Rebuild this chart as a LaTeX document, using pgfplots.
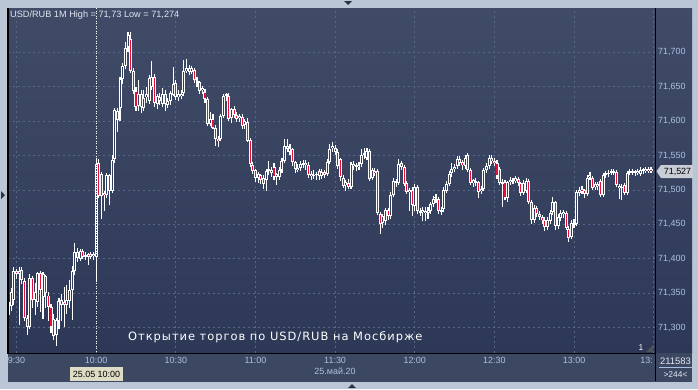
\documentclass[border=0pt]{standalone}
\usepackage{pgfplots}
\pgfplotsset{compat=1.18}
\usepackage{pgfplotstable}
\usepackage{fontspec}
\setmainfont{Liberation Sans}
\newfontfamily\dejavu[LetterSpace=8.5]{DejaVu Sans}
\definecolor{frame}{RGB}{186,197,213}
\definecolor{bgtop}{RGB}{64,76,103}
\definecolor{bgbot}{RGB}{44,56,86}
\definecolor{strip}{RGB}{60,72,98}
\definecolor{gridc}{RGB}{88,103,133}
\definecolor{labelc}{RGB}{170,192,225}
\definecolor{titlec}{RGB}{225,230,240}
\definecolor{candred}{RGB}{228,16,58}
\definecolor{candin}{RGB}{50,62,90}
\definecolor{uidark}{RGB}{40,50,70}
\pgfplotstableread{
m o h l c
-3 71.318 71.340 71.308 71.337
-2 71.332 71.358 71.325 71.352
-1 71.340 71.388 71.332 71.383
0 71.383 71.386 71.372 71.379
1 71.379 71.388 71.304 71.384
2 71.384 71.387 71.362 71.370
3 71.369 71.372 71.310 71.315
4 71.315 71.318 71.289 71.301
5 71.301 71.378 71.298 71.373
6 71.373 71.376 71.330 71.340
7 71.340 71.365 71.318 71.352
8 71.337 71.381 71.330 71.379
9 71.379 71.382 71.322 71.355
10 71.345 71.380 71.312 71.378
11 71.376 71.378 71.330 71.351
12 71.347 71.352 71.310 71.330
13 71.330 71.335 71.292 71.301
14 71.313 71.320 71.283 71.289
15 71.289 71.315 71.274 71.311
16 71.311 71.345 71.300 71.340
17 71.340 71.350 71.310 71.333
18 71.338 71.360 71.302 71.333
19 71.333 71.362 71.320 71.340
20 71.340 71.370 71.330 71.356
21 71.356 71.390 71.312 71.383
22 71.383 71.424 71.378 71.410
23 71.410 71.415 71.395 71.401
24 71.401 71.415 71.398 71.412
25 71.412 71.414 71.400 71.404
26 71.404 71.410 71.398 71.405
27 71.407 71.410 71.392 71.403
28 71.403 71.410 71.400 71.407
29 71.407 71.409 71.398 71.404
30 71.404 71.545 71.366 71.540
31 71.540 71.545 71.488 71.492
32 71.523 71.527 71.459 71.492
33 71.497 71.500 71.470 71.493
34 71.493 71.525 71.488 71.522
35 71.522 71.525 71.480 71.499
36 71.499 71.550 71.495 71.545
37 71.545 71.620 71.540 71.616
38 71.616 71.620 71.585 71.602
39 71.619 71.665 71.600 71.662
40 71.662 71.685 71.655 71.681
41 71.681 71.715 71.676 71.708
42 71.708 71.730 71.700 71.725
43 71.721 71.730 71.670 71.674
44 71.674 71.678 71.640 71.645
45 71.645 71.650 71.615 71.622
46 71.622 71.660 71.615 71.640
47 71.640 71.645 71.612 71.620
48 71.620 71.645 71.615 71.635
49 71.635 71.650 71.628 71.640
50 71.630 71.668 71.625 71.664
51 71.650 71.688 71.645 71.664
52 71.664 71.670 71.622 71.626
53 71.626 71.640 71.618 71.637
54 71.637 71.642 71.625 71.630
55 71.625 71.648 71.620 71.640
56 71.640 71.645 71.615 71.625
57 71.625 71.635 71.620 71.630
58 71.630 71.645 71.625 71.642
59 71.640 71.678 71.636 71.655
60 71.655 71.660 71.630 71.635
61 71.635 71.645 71.630 71.640
62 71.637 71.645 71.632 71.641
63 71.641 71.690 71.638 71.674
64 71.674 71.690 71.670 71.678
65 71.678 71.682 71.668 71.672
66 71.672 71.680 71.668 71.677
67 71.675 71.678 71.656 71.660
68 71.660 71.665 71.650 71.658
69 71.658 71.660 71.640 71.645
70 71.645 71.652 71.640 71.648
71 71.643 71.648 71.628 71.633
72 71.633 71.636 71.595 71.598
73 71.598 71.615 71.594 71.605
74 71.605 71.610 71.588 71.592
75 71.592 71.595 71.565 71.575
76 71.575 71.580 71.564 71.572
77 71.575 71.612 71.572 71.608
78 71.608 71.640 71.605 71.638
79 71.638 71.643 71.630 71.640
80 71.638 71.641 71.600 71.604
81 71.604 71.620 71.598 71.618
82 71.618 71.622 71.604 71.610
83 71.610 71.614 71.600 71.605
84 71.605 71.612 71.600 71.608
85 71.608 71.612 71.590 71.595
86 71.595 71.604 71.590 71.600
87 71.600 71.604 71.570 71.573
88 71.573 71.576 71.534 71.537
89 71.537 71.542 71.524 71.528
90 71.528 71.532 71.512 71.517
91 71.517 71.526 71.510 71.522
92 71.522 71.525 71.510 71.515
93 71.518 71.522 71.502 71.510
94 71.515 71.532 71.500 71.528
95 71.528 71.542 71.522 71.530
96 71.525 71.534 71.520 71.530
97 71.533 71.540 71.515 71.519
98 71.519 71.526 71.508 71.523
99 71.520 71.534 71.516 71.530
100 71.530 71.548 71.526 71.543
101 71.543 71.575 71.540 71.565
102 71.565 71.575 71.556 71.560
103 71.555 71.566 71.550 71.562
104 71.560 71.563 71.536 71.540
105 71.540 71.543 71.526 71.530
106 71.530 71.538 71.526 71.533
107 71.532 71.542 71.528 71.538
108 71.538 71.545 71.533 71.540
109 71.540 71.544 71.530 71.537
110 71.537 71.540 71.518 71.523
111 71.523 71.527 71.515 71.520
112 71.521 71.530 71.517 71.522
113 71.522 71.526 71.515 71.523
114 71.528 71.532 71.516 71.521
115 71.521 71.531 71.517 71.527
116 71.527 71.530 71.518 71.523
117 71.523 71.545 71.520 71.541
118 71.541 71.568 71.538 71.561
119 71.561 71.570 71.556 71.564
120 71.562 71.566 71.552 71.556
121 71.556 71.560 71.532 71.536
122 71.545 71.548 71.515 71.519
123 71.519 71.522 71.504 71.507
124 71.507 71.515 71.499 71.512
125 71.512 71.516 71.502 71.505
126 71.505 71.542 71.502 71.539
127 71.539 71.543 71.530 71.536
128 71.536 71.540 71.528 71.534
129 71.534 71.542 71.530 71.537
130 71.537 71.560 71.534 71.551
131 71.551 71.562 71.546 71.553
132 71.548 71.562 71.544 71.558
133 71.558 71.561 71.514 71.517
134 71.517 71.532 71.514 71.529
135 71.529 71.533 71.520 71.525
136 71.529 71.532 71.464 71.467
137 71.467 71.470 71.437 71.452
138 71.452 71.466 71.445 71.462
139 71.455 71.475 71.450 71.471
140 71.471 71.474 71.456 71.462
141 71.462 71.498 71.458 71.493
142 71.493 71.518 71.490 71.514
143 71.514 71.518 71.505 71.512
144 71.512 71.545 71.508 71.539
145 71.539 71.543 71.530 71.534
146 71.534 71.537 71.507 71.510
147 71.510 71.513 71.494 71.497
148 71.497 71.504 71.470 71.500
149 71.500 71.504 71.462 71.478
150 71.478 71.508 71.470 71.505
151 71.505 71.508 71.466 71.470
152 71.470 71.474 71.462 71.468
153 71.468 71.475 71.455 71.471
154 71.471 71.475 71.456 71.467
155 71.467 71.476 71.458 71.472
156 71.470 71.484 71.466 71.480
157 71.480 71.492 71.476 71.488
158 71.488 71.495 71.482 71.490
159 71.487 71.490 71.465 71.470
160 71.470 71.476 71.465 71.472
161 71.472 71.504 71.469 71.500
162 71.500 71.514 71.496 71.510
163 71.510 71.528 71.506 71.525
164 71.525 71.540 71.520 71.531
165 71.531 71.539 71.527 71.535
166 71.535 71.550 71.530 71.546
167 71.546 71.550 71.536 71.541
168 71.541 71.545 71.530 71.536
169 71.536 71.552 71.532 71.548
170 71.550 71.553 71.526 71.529
171 71.529 71.532 71.507 71.510
172 71.510 71.518 71.505 71.514
173 71.514 71.518 71.506 71.512
174 71.512 71.515 71.490 71.498
175 71.498 71.506 71.494 71.502
176 71.502 71.532 71.498 71.529
177 71.529 71.540 71.525 71.535
178 71.535 71.552 71.532 71.547
179 71.547 71.551 71.538 71.543
180 71.543 71.547 71.535 71.540
181 71.541 71.545 71.518 71.522
182 71.530 71.533 71.507 71.510
183 71.510 71.516 71.475 71.512
184 71.512 71.515 71.485 71.488
185 71.488 71.515 71.484 71.512
186 71.512 71.519 71.508 71.515
187 71.513 71.519 71.509 71.515
188 71.513 71.521 71.510 71.517
189 71.517 71.520 71.506 71.510
190 71.510 71.513 71.492 71.496
191 71.496 71.514 71.492 71.510
192 71.500 71.518 71.496 71.514
193 71.514 71.517 71.480 71.483
194 71.483 71.486 71.450 71.457
195 71.457 71.478 71.452 71.474
196 71.474 71.478 71.462 71.466
197 71.466 71.470 71.456 71.461
198 71.461 71.464 71.452 71.457
199 71.457 71.460 71.440 71.446
200 71.446 71.460 71.442 71.456
201 71.456 71.472 71.452 71.468
202 71.468 71.490 71.464 71.483
203 71.483 71.486 71.443 71.447
204 71.447 71.465 71.443 71.461
205 71.461 71.472 71.456 71.468
206 71.468 71.472 71.460 71.465
207 71.467 71.470 71.442 71.445
208 71.445 71.448 71.425 71.432
209 71.432 71.456 71.428 71.453
210 71.453 71.458 71.446 71.451
211 71.451 71.500 71.448 71.497
212 71.497 71.506 71.493 71.502
213 71.502 71.506 71.494 71.498
214 71.500 71.503 71.490 71.495
215 71.495 71.522 71.492 71.518
216 71.518 71.525 71.514 71.521
217 71.518 71.521 71.500 71.504
218 71.504 71.512 71.500 71.509
219 71.509 71.512 71.500 71.506
220 71.514 71.517 71.490 71.493
221 71.493 71.526 71.490 71.522
222 71.522 71.528 71.518 71.524
223 71.524 71.530 71.520 71.526
224 71.526 71.530 71.522 71.527
225 71.527 71.530 71.522 71.526
226 71.526 71.529 71.504 71.507
227 71.507 71.510 71.488 71.504
228 71.504 71.509 71.485 71.505
229 71.508 71.511 71.494 71.497
230 71.497 71.528 71.494 71.525
231 71.525 71.531 71.521 71.527
232 71.526 71.531 71.522 71.528
233 71.527 71.530 71.521 71.525
234 71.528 71.531 71.521 71.524
235 71.524 71.535 71.521 71.530
236 71.530 71.533 71.524 71.528
237 71.528 71.534 71.525 71.531
238 71.528 71.535 71.525 71.532
239 71.531 71.534 71.524 71.527
}\candles
\begin{document}
\begin{tikzpicture}[x=1bp,y=1bp]
% frame and panels
\fill[frame] (0,0) rectangle (698,-389);
\shade[top color=bgtop,bottom color=bgbot] (655,-8) rectangle (692,-353);
\fill[strip] (8,-353) rectangle (692,-382);
\begin{axis}[
  at={(8bp,-353bp)}, anchor=south west, scale only axis,
  width=647bp, height=345bp,
  xmin=-3.2, xmax=240.5, ymin=71.2629, ymax=71.7644,
  axis background/.style={shade, top color=bgtop, bottom color=bgbot},
  axis line style={draw=none},
  xtick={0,30,60,90,120,150,180,210,240},
  xticklabels={9:30,10:00,10:30,11:00,11:30,12:00,12:30,13:00,{}},
  ytick={71.30,71.35,71.40,71.45,71.50,71.55,71.60,71.65,71.70},
  yticklabels={{71,300},{71,350},{71,400},{71,450},{71,500},{71,550},{71,600},{71,650},{71,700}},
  yticklabel pos=right,
  tick style={draw=none},
  grid=major,
  major grid style={draw=gridc, line width=0.6bp, dash pattern=on 2bp off 3bp},
  xticklabel style={font=\fontsize{9}{10}\selectfont, text=labelc, inner sep=0pt, yshift=-4.5bp},
  yticklabel style={font=\fontsize{9}{10}\selectfont, text=labelc, inner sep=0pt, anchor=west, xshift=3bp},
  clip=true,
]
% wicks
\addplot[draw=none, mark=none, error bars/.cd, y dir=both, y explicit, error mark=none,
  error bar style={draw=white, line width=1.1bp}]
  table[x=m, y expr=(\thisrow{h}+\thisrow{l})/2, y error expr=(\thisrow{h}-\thisrow{l})/2] {\candles};
% bodies
\addplot[draw=none, mark=none, error bars/.cd, y dir=both, y explicit, error mark=none,
  error bar style={draw=white, line width=3bp}]
  table[x=m, y expr=(\thisrow{o}+\thisrow{c})/2, y error expr={max(abs(\thisrow{o}-\thisrow{c})/2,0.0008)}] {\candles};
% hollow interiors (bullish)
\addplot[draw=none, mark=none, error bars/.cd, y dir=both, y explicit, error mark=none,
  error bar style={draw=candin, line width=1bp}]
  table[x=m, y expr=(\thisrow{o}+\thisrow{c})/2, y error expr={max(abs(\thisrow{o}-\thisrow{c})/2-0.00145,0)}] {\candles};
% red interiors (bearish)
\addplot[draw=none, mark=none, restrict expr to domain={\thisrow{o}-\thisrow{c}}{0.0001:10},
  error bars/.cd, y dir=both, y explicit, error mark=none,
  error bar style={draw=candred, line width=1.1bp}]
  table[x=m, y expr=(\thisrow{o}+\thisrow{c})/2, y error expr={max(abs(\thisrow{o}-\thisrow{c})/2-0.00145,0)}] {\candles};
\end{axis}
% axis border lines
\draw[black, line width=1.2bp] (8,-8) -- (8,-353.5) -- (655,-353.5);
\draw[black, line width=1bp] (655,-8) -- (655,-381);
\draw[white, line width=0.8bp, dash pattern=on 1bp off 1.5bp] (96.2,-8) -- (96.2,-353);
% title
\node[anchor=west, inner sep=0pt, text=titlec, font=\fontsize{9.2}{10}\selectfont] at (10,-15) {USD/RUB 1M High = 71,73 Low = 71,274};
% annotation
\node[anchor=west, inner sep=0pt, text=white, font=\dejavu\fontsize{11.5}{12}\selectfont] at (128,-337) {Открытие торгов по USD/RUB на Мосбирже};
% last price marker
\fill[fill={rgb,255:red,200;green,205;blue,214}] (656.5,-171.3) -- (661,-165) -- (693,-165) -- (693,-178) -- (661,-178) -- cycle;
\node[anchor=center, inner sep=0pt, text=black, font=\fontsize{9}{10}\selectfont] at (677.5,-171.5) {71,527};
% 13: label
\node[anchor=north east, inner sep=0pt, text=labelc, font=\fontsize{9}{10}\selectfont] at (653,-357.5) {13:};
% date
\node[anchor=north, inner sep=0pt, text=labelc, font=\fontsize{9}{10}\selectfont] at (335,-368) {25.май.20};
% crosshair time box
\fill[fill={rgb,255:red,222;green,220;blue,196}] (70,-367) rectangle (123,-381);
\node[anchor=center, inner sep=0pt, text=black, font=\fontsize{9}{10}\selectfont] at (96.5,-374) {25.05 10:00};
% bottom right info
\node[anchor=center, inner sep=0pt, text=titlec, font=\fontsize{9.5}{10}\selectfont] at (675.5,-361) {211583};
\draw[labelc, line width=0.6bp] (659,-367.5) -- (692,-367.5);
\node[anchor=center, inner sep=0pt, text=titlec, font=\fontsize{8.5}{10}\selectfont] at (675.5,-374.5) {>244<};
\node[anchor=center, inner sep=0pt, text=white, font=\fontsize{8.5}{10}\selectfont] at (641,-348) {1};
\fill[uidark!60!gray] (646,-352) -- (653,-352) -- (653,-345) -- cycle;
% ui triangles
\fill[uidark] (344,-1) -- (352,-1) -- (348,-5) -- cycle;
\fill[uidark] (348,-388) -- (356,-388) -- (352,-384) -- cycle;
\fill[uidark] (1,-191) -- (1,-199) -- (5,-195) -- cycle;
\end{tikzpicture}
\end{document}
